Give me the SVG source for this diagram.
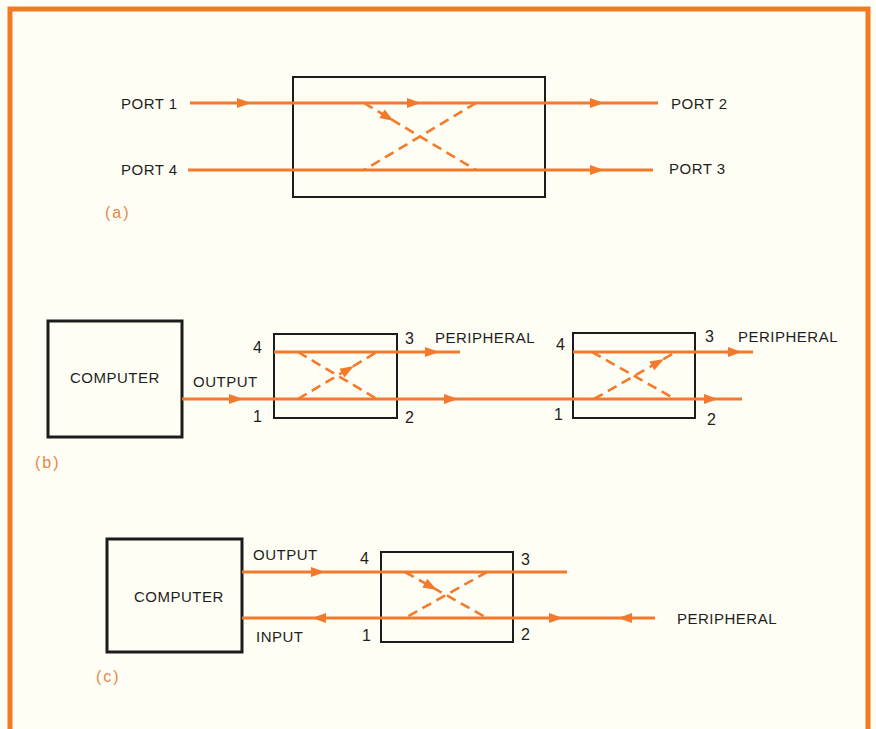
<svg xmlns="http://www.w3.org/2000/svg" xmlns:xlink="http://www.w3.org/1999/xlink" width="876" height="729" viewBox="0 0 876 729">
<style>
.bg{fill:#FFFEF4}
.frame{fill:none;stroke:#F47A22;stroke-width:5}
.box{fill:none;stroke:#1c1c1c;stroke-width:2}
.cbox{fill:#FFFEF4;stroke:#1c1c1c;stroke-width:3}
.ln{fill:none;stroke:#F37A2C;stroke-width:3}
.dash{fill:none;stroke:#F37A2C;stroke-width:2.6;stroke-dasharray:10 6}
.ah{fill:#F37A2C}
.t{font-family:"Liberation Sans",Arial,sans-serif;font-size:15px;fill:#1e1e1e;letter-spacing:0.5px}
.n{font-family:"Liberation Sans",Arial,sans-serif;font-size:16px;fill:#1e1e1e}
.cap{font-family:"Liberation Sans",Arial,sans-serif;font-size:16px;fill:#E8874A;letter-spacing:2px}
</style>
<defs>
<path id="ah" d="M0,0 L-14,-5 L-14,5 Z"/>
</defs>
<rect class="bg" x="0" y="0" width="876" height="729"/>
<path class="frame" d="M10,729 L10,9 L868,9 L868,729"/>

<!-- (a) -->
<g id="coupler-a">
<rect class="box" x="293" y="77" width="252" height="120"/>
</g>
<g id="labels-a">
<text class="t" x="121" y="109">PORT 1</text>
<text class="t" x="121" y="175">PORT 4</text>
<text class="t" x="671" y="109">PORT 2</text>
<text class="t" x="669" y="174">PORT 3</text>
<text class="cap" x="105" y="218">(a)</text>
</g>

<!-- (b) -->
<g id="computer-b">
<rect class="cbox" x="48" y="321" width="134" height="116"/>
<text class="t" x="70" y="383">COMPUTER</text>
</g>
<g id="coupler-b1">
<rect class="box" x="274" y="334" width="123" height="84"/>
<text class="n" x="253" y="353">4</text>
<text class="n" x="253" y="422">1</text>
<text class="n" x="405" y="344">3</text>
<text class="n" x="405" y="423">2</text>
</g>
<g id="coupler-b2">
<rect class="box" x="573" y="333" width="122" height="85"/>
<text class="n" x="556" y="350">4</text>
<text class="n" x="554" y="420">1</text>
<text class="n" x="705" y="342">3</text>
<text class="n" x="707" y="425">2</text>
</g>
<g id="labels-b">
<text class="t" x="193" y="387">OUTPUT</text>
<text class="t" x="435" y="343">PERIPHERAL</text>
<text class="t" x="738" y="342">PERIPHERAL</text>
<text class="cap" x="35" y="468">(b)</text>
</g>

<!-- (c) -->
<g id="computer-c">
<rect class="cbox" x="107" y="539" width="135" height="113"/>
<text class="t" x="134" y="602">COMPUTER</text>
</g>
<g id="coupler-c">
<rect class="box" x="381" y="552" width="132" height="90"/>
<text class="n" x="360" y="564">4</text>
<text class="n" x="362" y="641">1</text>
<text class="n" x="521" y="565">3</text>
<text class="n" x="521" y="640">2</text>
</g>
<g id="labels-c">
<text class="t" x="253" y="560">OUTPUT</text>
<text class="t" x="256" y="642">INPUT</text>
<text class="t" x="677" y="624">PERIPHERAL</text>
<text class="cap" x="96" y="682">(c)</text>
</g>

<g id="connectors">
<!-- (a) -->
<line class="ln" x1="190" y1="103" x2="658" y2="103"/>
<line class="ln" x1="188" y1="170" x2="653" y2="170"/>
<line class="dash" x1="364" y1="103" x2="476" y2="170"/>
<line class="dash" x1="476" y1="103" x2="364" y2="170"/>
<use xlink:href="#ah" class="ah" transform="translate(251,103)"/>
<use xlink:href="#ah" class="ah" transform="translate(421,103)"/>
<use xlink:href="#ah" class="ah" transform="translate(604,103)"/>
<use xlink:href="#ah" class="ah" transform="translate(604,170)"/>
<use xlink:href="#ah" class="ah" transform="translate(394,121) rotate(30.9)"/>

<!-- (b) -->
<line class="ln" x1="182" y1="399" x2="742" y2="399"/>
<line class="ln" x1="274" y1="352" x2="460" y2="352"/>
<line class="ln" x1="573" y1="352" x2="753" y2="352"/>
<line class="dash" x1="298" y1="352" x2="377" y2="399"/>
<line class="dash" x1="298" y1="399" x2="377" y2="352"/>
<line class="dash" x1="592" y1="352" x2="675" y2="399"/>
<line class="dash" x1="594" y1="399" x2="676" y2="352"/>
<use xlink:href="#ah" class="ah" transform="translate(243,399)"/>
<use xlink:href="#ah" class="ah" transform="translate(458,399)"/>
<use xlink:href="#ah" class="ah" transform="translate(718,399)"/>
<use xlink:href="#ah" class="ah" transform="translate(439,352)"/>
<use xlink:href="#ah" class="ah" transform="translate(742,352)"/>
<use xlink:href="#ah" class="ah" transform="translate(354,366) rotate(-30.8)"/>
<use xlink:href="#ah" class="ah" transform="translate(664,359) rotate(-29.8)"/>

<!-- (c) -->
<line class="ln" x1="242" y1="572" x2="567" y2="572"/>
<line class="ln" x1="242" y1="618" x2="655" y2="618"/>
<line class="dash" x1="405" y1="572" x2="487" y2="618"/>
<line class="dash" x1="487" y1="572" x2="405" y2="618"/>
<use xlink:href="#ah" class="ah" transform="translate(325,572)"/>
<use xlink:href="#ah" class="ah" transform="translate(312,618) rotate(180)"/>
<use xlink:href="#ah" class="ah" transform="translate(563,618)"/>
<use xlink:href="#ah" class="ah" transform="translate(618,618) rotate(180)"/>
<use xlink:href="#ah" class="ah" transform="translate(437,590) rotate(29.3)"/>
</g>
</svg>
